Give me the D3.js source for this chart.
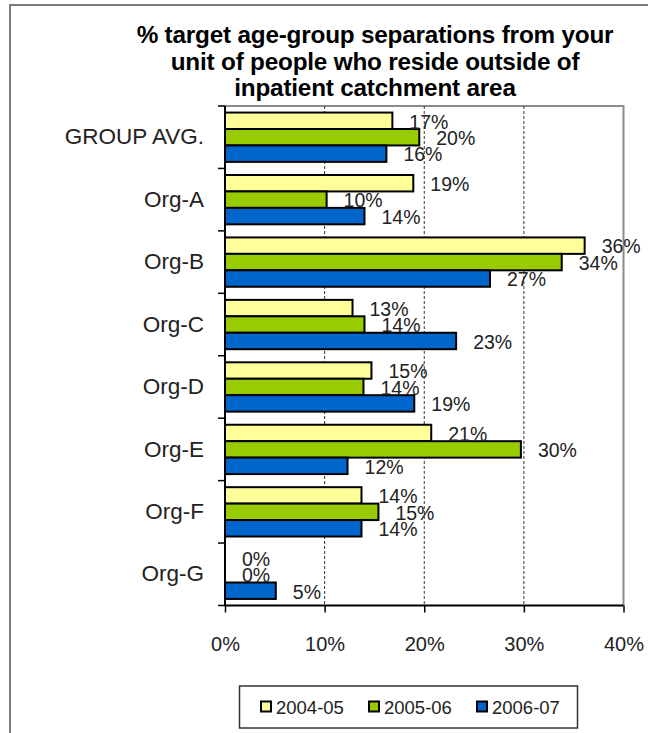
<!DOCTYPE html>
<html>
<head>
<meta charset="utf-8">
<script src="https://cdn.jsdelivr.net/npm/d3@7"></script>
<style>
  html, body { margin: 0; padding: 0; background: #fff; }
  svg { display: block; font-family: "Liberation Sans", Arial, sans-serif; }
</style>
</head>
<body>
<svg id="chart" width="648" height="733"></svg>
<script>
const categories = ["GROUP AVG.", "Org-A", "Org-B", "Org-C", "Org-D", "Org-E", "Org-F", "Org-G"];
const seriesNames = ["2004-05", "2005-06", "2006-07"];
const values2004 = [16.8, 18.9, 36.1, 12.8, 14.7, 20.7, 13.7, 0];
const values2005 = [19.5, 10.2, 33.8, 14.0, 13.9, 29.7, 15.4, 0];
const values2006 = [16.2, 14.0, 26.6, 23.2, 19.0, 12.3, 13.7, 5.1];
const labels2004 = ["17%", "19%", "36%", "13%", "15%", "21%", "14%", "0%"];
const labels2005 = ["20%", "10%", "34%", "14%", "14%", "30%", "15%", "0%"];
const labels2006 = ["16%", "14%", "27%", "23%", "19%", "12%", "14%", "5%"];
const xTicks = [0, 10, 20, 30, 40];
const titleLines = ["% target age-group separations from your", "unit of people who reside outside of", "inpatient catchment area"];
const colors = ["#FFFF99", "#99CC00", "#0066CC"];

const seriesValues = [values2004, values2005, values2006];
const seriesLabels = [labels2004, labels2005, labels2006];

const svg = d3.select("#chart");

// outer frame
svg.append("rect").attr("x", 10).attr("y", 5).attr("width", 660).attr("height", 760)
  .attr("fill", "#fff").attr("stroke", "#7a7a7a").attr("stroke-width", 2);

// title
const title = svg.append("text").attr("text-anchor", "middle")
  .attr("font-weight", "bold").attr("font-size", 24.3).attr("fill", "#000")
  .attr("letter-spacing", -0.2);
titleLines.forEach((t, i) => {
  title.append("tspan").attr("x", 375).attr("y", 43 + i * 26.5).text(t);
});

const plot = { left: 225, right: 623.5, top: 106, bottom: 605.5 };

const x = d3.scaleLinear().domain([0, 40]).range([plot.left, plot.right]);
const y0 = d3.scaleBand().domain(categories).range([plot.top, plot.bottom])
  .paddingInner(0.21).paddingOuter(0.105);
const y1 = d3.scaleBand().domain(seriesNames).range([0, y0.bandwidth()]);

// plot border (top/right gray)
svg.append("path")
  .attr("d", `M${plot.left},${plot.top}H${plot.right}V${plot.bottom}`)
  .attr("fill", "none").attr("stroke", "#8c8c8c").attr("stroke-width", 2);

// gridlines
svg.append("g").selectAll("line").data(xTicks.filter(d => d > 0 && d < 40)).join("line")
  .attr("x1", d => x(d)).attr("x2", d => x(d))
  .attr("y1", plot.top).attr("y2", plot.bottom)
  .attr("stroke", "#333").attr("stroke-width", 1).attr("stroke-dasharray", "3,2");

// bars
const data = [];
categories.forEach((c, i) => {
  seriesNames.forEach((s, j) => {
    data.push({ cat: c, series: s, value: seriesValues[j][i], label: seriesLabels[j][i], color: colors[j] });
  });
});

const g = svg.append("g");
g.selectAll("rect").data(data.filter(d => d.value > 0)).join("rect")
  .attr("x", x(0))
  .attr("y", d => y0(d.cat) + y1(d.series))
  .attr("width", d => x(d.value) - x(0))
  .attr("height", y1.bandwidth())
  .attr("fill", d => d.color)
  .attr("stroke", "#000").attr("stroke-width", 2);

// value labels
g.selectAll("text").data(data).join("text")
  .attr("x", d => x(d.value) + 17)
  .attr("y", d => y0(d.cat) + y1(d.series) + y1.bandwidth() / 2 + 1)
  .attr("dy", "0.35em")
  .attr("font-size", 19.5).attr("fill", "#222")
  .text(d => d.label);

// y axis
const yAxis = svg.append("g").attr("transform", `translate(${plot.left},0)`)
  .call(d3.axisLeft(y0).tickSize(0).tickPadding(21));
yAxis.select(".domain").remove();
yAxis.selectAll("text").attr("font-size", 22.5).attr("fill", "#222")
  .attr("font-family", "Liberation Sans, Arial, sans-serif");
// category boundary ticks
const bounds = categories.map((c, i) => plot.top + i * y0.step()).concat([plot.bottom]);
svg.append("g").selectAll("line").data(bounds).join("line")
  .attr("x1", plot.left - 7).attr("x2", plot.left)
  .attr("y1", d => d).attr("y2", d => d)
  .attr("stroke", "#000").attr("stroke-width", 1.5);
svg.append("line").attr("x1", plot.left).attr("x2", plot.left)
  .attr("y1", plot.top).attr("y2", plot.bottom)
  .attr("stroke", "#000").attr("stroke-width", 2);

// x axis
const xAxis = svg.append("g").attr("transform", `translate(0,${plot.bottom})`)
  .call(d3.axisBottom(x).tickValues(xTicks).tickFormat(d => d + "%").tickSize(7).tickPadding(24));
xAxis.select(".domain").attr("stroke", "#000").attr("stroke-width", 2)
  .attr("d", `M${plot.left},0H${plot.right}`);
xAxis.selectAll(".tick line").attr("stroke", "#000").attr("stroke-width", 1.5);
xAxis.selectAll("text").attr("font-size", 20).attr("fill", "#222")
  .attr("font-family", "Liberation Sans, Arial, sans-serif");

// legend
const legend = svg.append("g");
legend.append("rect").attr("x", 239.5).attr("y", 686).attr("width", 338).attr("height", 42)
  .attr("fill", "#fff").attr("stroke", "#333").attr("stroke-width", 1.5);
const legendX = [261, 369, 477];
seriesNames.forEach((s, j) => {
  legend.append("rect").attr("x", legendX[j]).attr("y", 701.5).attr("width", 10).attr("height", 10)
    .attr("fill", colors[j]).attr("stroke", "#000").attr("stroke-width", 2);
  legend.append("text").attr("x", legendX[j] + 15).attr("y", 713.5)
    .attr("font-size", 18.5).attr("fill", "#222").text(s);
});
</script>
</body>
</html>
